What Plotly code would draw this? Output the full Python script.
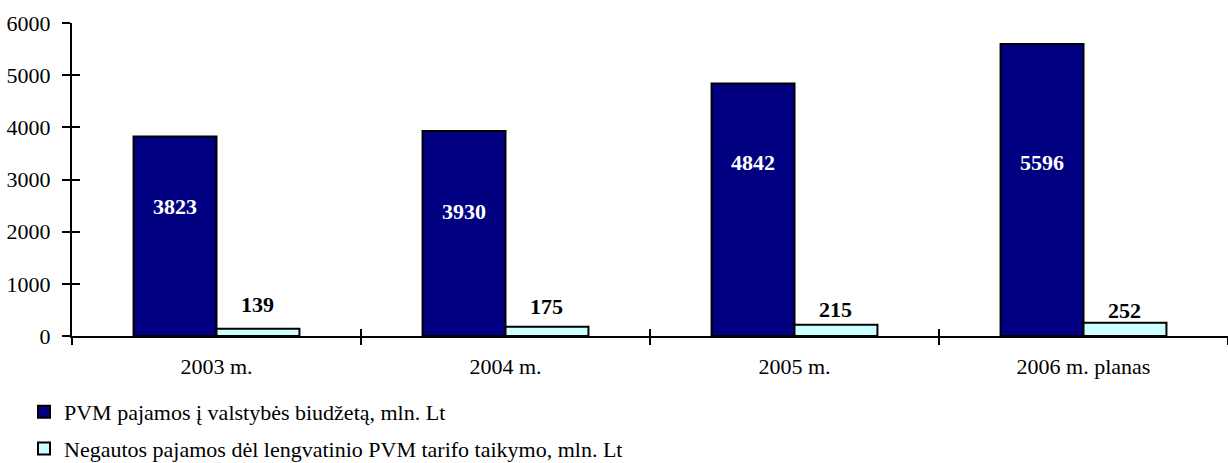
import plotly.graph_objects as go

categories = ["2003 m.", "2004 m.", "2005 m.", "2006 m. planas"]
pvm_pajamos = [3823, 3930, 4842, 5596]
negautos_pajamos = [139, 175, 215, 252]
series_names = [
    "PVM pajamos į valstybės biudžetą, mln. Lt",
    "Negautos pajamos dėl lengvatinio PVM tarifo taikymo, mln. Lt",
]
y_ticks = [0, 1000, 2000, 3000, 4000, 5000, 6000]

# label placement (value-axis heights at which the labels sit)
dark_label_pos = [2480, 2380, 3330, 3330]
light_label_pos = [610, 560, 515, 480]

FONT = "Liberation Serif, Times New Roman, serif"
FS = 22
W, H = 1228, 463
ML, MR, MT, MB = 72, 0, 23, 127

fig = go.Figure()
fig.add_trace(go.Bar(
    x=categories, y=pvm_pajamos, name=series_names[0],
    marker=dict(color="#000080", line=dict(color="#000000", width=2)),
    legendgroup="a", hoverinfo="skip",
))
fig.add_trace(go.Bar(
    x=categories, y=negautos_pajamos, name=series_names[1],
    marker=dict(color="#CCFFFF", line=dict(color="#000000", width=2)),
    legendgroup="b", hoverinfo="skip",
))
# helper trace so the overlay axes (crossing ticks) get drawn
fig.add_trace(go.Scatter(
    x=categories, y=pvm_pajamos, mode="markers", marker=dict(opacity=0),
    xaxis="x2", yaxis="y2", showlegend=False, hoverinfo="skip",
))

plot_w = W - ML - MR
half_bar_px = plot_w / len(categories) * (1 - 0.426) / 4

annotations = []
for c, v, p in zip(categories, pvm_pajamos, dark_label_pos):
    annotations.append(dict(
        x=c, y=p, xref="x", yref="y", text=f"<b>{v}</b>", showarrow=False,
        xshift=-half_bar_px, font=dict(family=FONT, size=FS, color="white"),
    ))
for c, v, p in zip(categories, negautos_pajamos, light_label_pos):
    annotations.append(dict(
        x=c, y=p, xref="x", yref="y", text=f"<b>{v}</b>", showarrow=False,
        xshift=half_bar_px, font=dict(family=FONT, size=FS, color="black"),
    ))

common_x = dict(type="category", categoryorder="array", categoryarray=categories,
                range=[-0.5, len(categories) - 0.5], tickson="boundaries",
                tickwidth=2, tickcolor="black", ticklen=7, showgrid=False, zeroline=False,
                automargin=False)
common_y = dict(range=[0, 6000], tickvals=y_ticks, tickwidth=2, tickcolor="black",
                ticklen=8, showgrid=False, zeroline=False, automargin=False)

fig.update_layout(
    width=W, height=H,
    margin=dict(l=ML, r=MR, t=MT, b=MB, pad=0, autoexpand=False),
    paper_bgcolor="white", plot_bgcolor="white",
    barmode="group", bargap=0.426, bargroupgap=0,
    font=dict(family=FONT, size=FS, color="black"),
    xaxis=dict(**common_x, ticks="outside", showline=True, linecolor="black", linewidth=2,
               ticklabelstandoff=10, tickfont=dict(family=FONT, size=FS)),
    yaxis=dict(**common_y, ticks="outside", showline=True, linecolor="black", linewidth=2,
               ticklabelstandoff=7, tickfont=dict(family=FONT, size=FS)),
    xaxis2=dict(**common_x, overlaying="x", ticks="inside", showline=False,
                showticklabels=False, anchor="y2"),
    yaxis2=dict(**common_y, overlaying="y", ticks="inside", showline=False,
                showticklabels=False, anchor="x2"),
    showlegend=True,
    legend=dict(
        x=(24 - ML) / plot_w, xanchor="left",
        y=(H - MB - 391) / (H - MT - MB), yanchor="top",
        orientation="v", traceorder="grouped", tracegroupgap=5,
        font=dict(family=FONT, size=FS, color="black"),
        bgcolor="rgba(0,0,0,0)",
    ),
    annotations=annotations,
)

fig.write_html(
    "out.html",
    config={"displayModeBar": False},
    post_script="document.body.style.margin='0px';document.body.style.overflow='hidden';",
)
